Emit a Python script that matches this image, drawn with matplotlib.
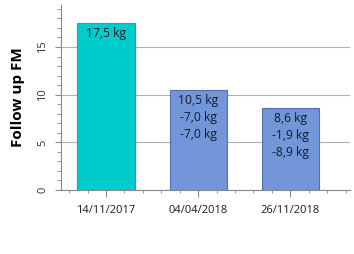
import matplotlib.pyplot as plt
from matplotlib.ticker import MultipleLocator

plt.rcParams['font.family'] = ['Open Sans', 'DejaVu Sans']

# data
dates = ['14/11/2017', '04/04/2018', '26/11/2018']
fm = [17.5, 10.5, 8.6]
notes = ['17,5 kg', '10,5 kg\n-7,0 kg\n-7,0 kg', '8,6 kg\n-1,9 kg\n-8,9 kg']
colors = ['#00CCCC', '#7396D9', '#7396D9']
edges = ['#00B3B3', '#4F6FB0', '#4F6FB0']

fig = plt.figure(figsize=(3.54, 2.54), dpi=100)
ax = fig.add_axes([0.172, 0.252, 0.817, 0.728])

x = list(range(len(dates)))
ax.bar(x, fm, width=0.62, color=colors, edgecolor=edges, linewidth=0.8, zorder=3)
for xi, v, t in zip(x, fm, notes):
    ax.text(xi, v - 0.45, t, ha='center', va='top', fontsize=8.7,
            color='#0f1c2c', linespacing=1.4, zorder=4)

ax.set_xlim(-0.49, 2.65)
ax.set_ylim(0, 19.4)
ax.set_xticks(x)
ax.set_xticklabels(dates, fontsize=8, color='#1a1a1a')
ax.xaxis.set_minor_locator(MultipleLocator(0.2))
ax.yaxis.set_major_locator(MultipleLocator(5))
ax.yaxis.set_minor_locator(MultipleLocator(1))
ax.tick_params(axis='y', which='major', labelsize=8, labelcolor='#333333',
               length=4, color='#888888', labelrotation=90, pad=5)
ax.tick_params(axis='y', which='minor', length=3, color='#888888')
ax.tick_params(axis='x', which='major', length=5, color='#888888', pad=6)
ax.tick_params(axis='x', which='minor', length=2.5, color='#888888')
for lab in ax.get_yticklabels():
    lab.set_va('center')
ax.grid(axis='y', which='major', color='#b0b0b0', linewidth=0.8, zorder=0)
ax.set_ylabel('Follow up FM', fontsize=11, fontweight='bold', labelpad=9)
for s in ['top', 'right']:
    ax.spines[s].set_visible(False)
for s in ['left', 'bottom']:
    ax.spines[s].set_color('#888888')

fig.savefig('out.png', dpi=100)
